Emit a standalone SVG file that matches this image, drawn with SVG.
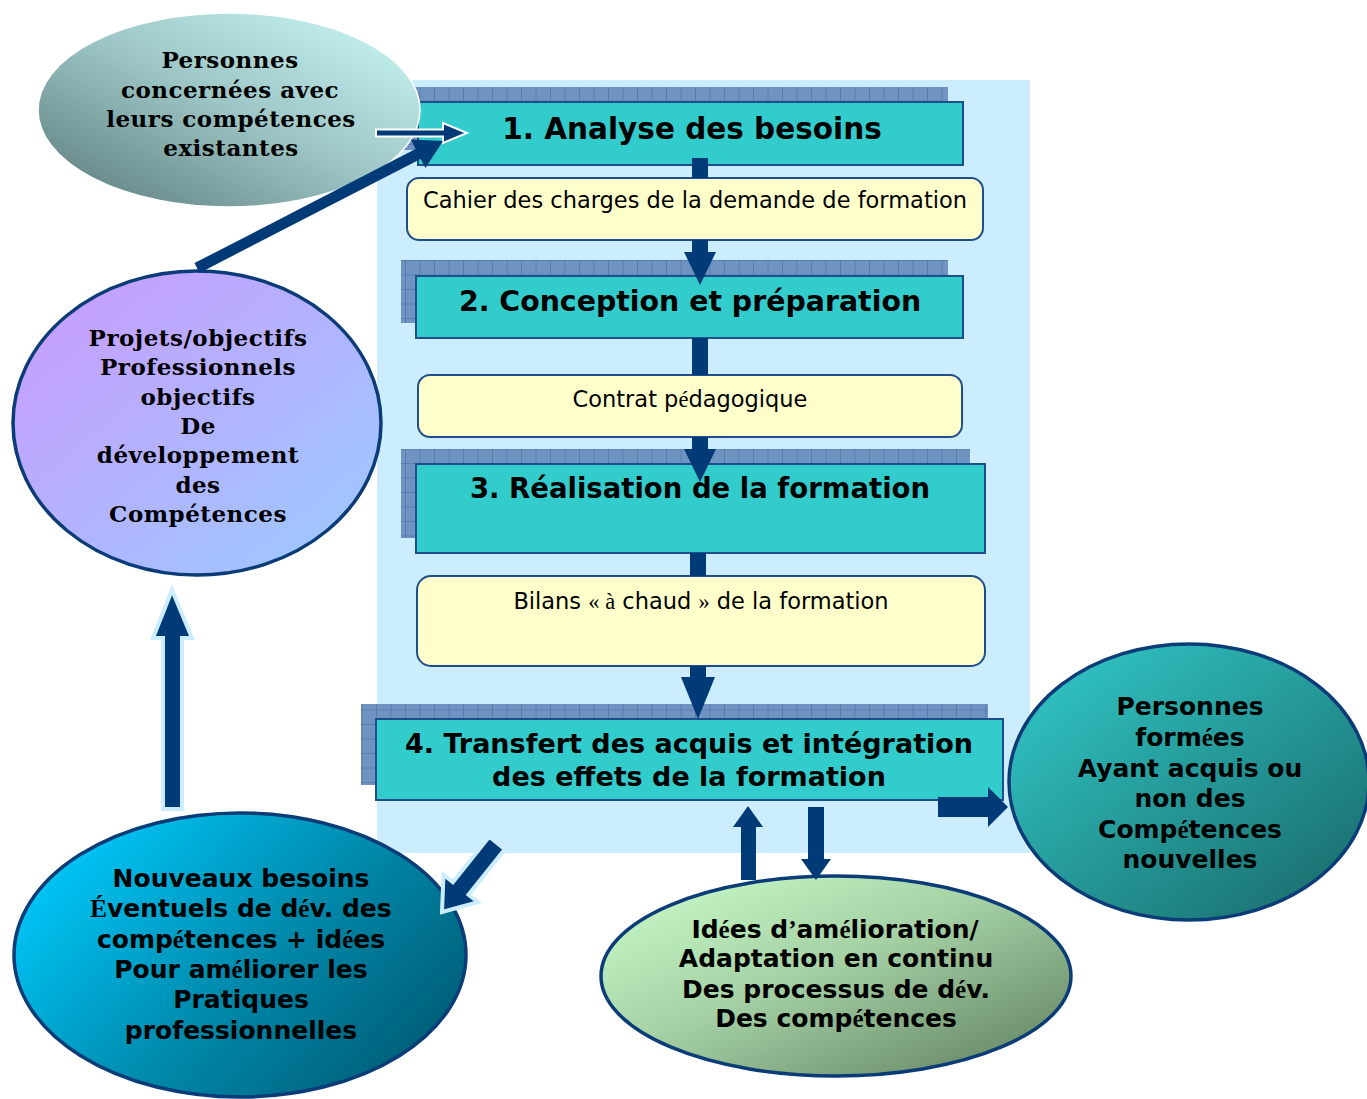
<svg xmlns="http://www.w3.org/2000/svg" width="1367" height="1099" viewBox="0 0 1367 1099">
  <style>
    .step { fill: #33CCCC; stroke: #1F4E8C; stroke-width: 2; }
    .shadow { fill: url(#grid); }
    .doc { fill: #FFFFCC; stroke: #1F4E8C; stroke-width: 2; }
    .title { font-family: "DejaVu Sans", Verdana, sans-serif; font-weight: bold; font-size: 27.5px; fill: #000; text-anchor: middle; }
    .label { font-family: "DejaVu Sans", Verdana, sans-serif; font-size: 22.5px; fill: #000; text-anchor: middle; }
    .serif { font-family: "DejaVu Serif", "Liberation Serif", serif; font-weight: bold; font-size: 23px; letter-spacing: 0.5px; fill: #000; text-anchor: middle; }
    .sans { font-family: "DejaVu Sans", Verdana, sans-serif; font-weight: bold; font-size: 25px; fill: #000; text-anchor: middle; }
    .tm { font-family: "Liberation Serif", "Times New Roman", serif; }
    .tmb { font-family: "Liberation Serif", "Times New Roman", serif; font-weight: bold; }
    .bubble { stroke: #0B3C78; stroke-width: 3.5; }
    .navy { fill: #003B77; }
    .halo { fill: #003B77; stroke: #CCECFF; stroke-width: 4; stroke-linejoin: miter; }
  </style>
  <defs>
    <pattern id="grid" width="14.5" height="14.5" patternUnits="userSpaceOnUse">
      <rect width="14.5" height="14.5" fill="#6F94C2"/>
      <path d="M14.5 0V14.5M0 14.5H14.5" stroke="#40679F" stroke-width="1"/>
    </pattern>
    <linearGradient id="gExist" x1="1" y1="0" x2="0" y2="1">
      <stop offset="0" stop-color="#CCFBFA"/>
      <stop offset="0.5" stop-color="#9CC4C4"/>
      <stop offset="1" stop-color="#587777"/>
    </linearGradient>
    <linearGradient id="gGoals" x1="0" y1="0" x2="1" y2="1">
      <stop offset="0" stop-color="#CC99FF"/>
      <stop offset="1" stop-color="#99CCFF"/>
    </linearGradient>
    <linearGradient id="gNeeds" x1="0" y1="0.2" x2="1" y2="0.8">
      <stop offset="0" stop-color="#00CCFF"/>
      <stop offset="0.55" stop-color="#0088AA"/>
      <stop offset="1" stop-color="#005A72"/>
    </linearGradient>
    <linearGradient id="gIdeas" x1="0" y1="0" x2="1" y2="1">
      <stop offset="0" stop-color="#CCFFCC"/>
      <stop offset="0.45" stop-color="#A6D2A6"/>
      <stop offset="1" stop-color="#5C7C5C"/>
    </linearGradient>
    <linearGradient id="gTrained" x1="0" y1="0" x2="1" y2="1">
      <stop offset="0" stop-color="#33CCCC"/>
      <stop offset="1" stop-color="#186666"/>
    </linearGradient>
  </defs>

  <!-- process panel -->
  <rect id="panel" x="377" y="80" width="653" height="773" fill="#CCECFF"/>

  <!-- step 1 -->
  <g id="step1">
    <rect class="shadow" x="403" y="87" width="545" height="63"/>
    <rect class="step" x="418" y="102" width="545" height="63"/>
    <text class="title" x="692" y="139" style="font-size:29.5px">1. Analyse des besoins</text>
  </g>

  <g id="doc1">
    <rect class="doc" x="407" y="178" width="576" height="62" rx="12"/>
    <text class="label" x="695" y="208">Cahier des charges de la demande de formation</text>
  </g>

  <!-- step 2 -->
  <g id="step2">
    <rect class="shadow" x="401" y="260" width="547" height="63"/>
    <rect class="step" x="416" y="276" width="547" height="62"/>
    <text class="title" x="690" y="311" style="font-size:28.4px">2. Conception et préparation</text>
  </g>

  <g id="doc2">
    <rect class="doc" x="418" y="375" width="544" height="62" rx="12"/>
    <text class="label" x="690" y="407">Contrat p<tspan class="tm">é</tspan>dagogique</text>
  </g>

  <!-- step 3 -->
  <g id="step3">
    <rect class="shadow" x="401" y="449" width="569" height="89"/>
    <rect class="step" x="416" y="464" width="569" height="89"/>
    <text class="title" x="700" y="498">3. Réalisation de la formation</text>
  </g>

  <g id="doc3">
    <rect class="doc" x="417" y="576" width="568" height="90" rx="14"/>
    <text class="label" x="701" y="609">Bilans <tspan class="tm">« à</tspan> chaud <tspan class="tm">»</tspan> de la formation</text>
  </g>

  <!-- step 4 -->
  <g id="step4">
    <rect class="shadow" x="361" y="704" width="627" height="81"/>
    <rect class="step" x="376" y="719" width="627" height="81"/>
    <text class="title" x="689" y="753" style="font-size:27px">4. Transfert des acquis et intégration</text>
    <text class="title" x="689" y="786" style="font-size:27px">des effets de la formation</text>
  </g>

  <!-- surrounding bubbles -->
  <g id="existing">
    <ellipse cx="229" cy="110" rx="191" ry="97" fill="url(#gExist)" stroke="#FFFFFF" stroke-width="1.5"/>
    <text class="serif" x="230" y="68">Personnes</text>
    <text class="serif" x="230" y="98">concernées avec</text>
    <text class="serif" x="231" y="127">leurs compétences</text>
    <text class="serif" x="231" y="156">existantes</text>
  </g>

  <g id="goals">
    <ellipse class="bubble" cx="197" cy="423" rx="184" ry="152" fill="url(#gGoals)"/>
    <text class="serif" x="198" y="346">Projets/objectifs</text>
    <text class="serif" x="198" y="375">Professionnels</text>
    <text class="serif" x="198" y="405">objectifs</text>
    <text class="serif" x="198" y="434">De</text>
    <text class="serif" x="198" y="463">développement</text>
    <text class="serif" x="198" y="493">des</text>
    <text class="serif" x="198" y="522">Compétences</text>
  </g>

  <g id="needs">
    <ellipse class="bubble" cx="240" cy="955" rx="226" ry="142" fill="url(#gNeeds)"/>
    <text class="sans" x="241" y="887">Nouveaux besoins</text>
    <text class="sans" x="241" y="917"><tspan class="tmb">É</tspan>ventuels de d<tspan class="tmb">é</tspan>v. des</text>
    <text class="sans" x="241" y="948">comp<tspan class="tmb">é</tspan>tences + id<tspan class="tmb">é</tspan>es</text>
    <text class="sans" x="241" y="978">Pour am<tspan class="tmb">é</tspan>liorer les</text>
    <text class="sans" x="241" y="1008">Pratiques</text>
    <text class="sans" x="241" y="1039">professionnelles</text>
  </g>

  <g id="ideas">
    <ellipse class="bubble" cx="836" cy="976" rx="235" ry="100" fill="url(#gIdeas)"/>
    <text class="sans" x="835" y="938">Id<tspan class="tmb">é</tspan>es d<tspan class="tmb">’</tspan>am<tspan class="tmb">é</tspan>lioration/</text>
    <text class="sans" x="836" y="967">Adaptation en continu</text>
    <text class="sans" x="836" y="998">Des processus de d<tspan class="tmb">é</tspan>v.</text>
    <text class="sans" x="836" y="1027">Des comp<tspan class="tmb">é</tspan>tences</text>
  </g>

  <g id="trained">
    <ellipse class="bubble" cx="1189" cy="782" rx="180" ry="138" fill="url(#gTrained)"/>
    <text class="sans" x="1190" y="715">Personnes</text>
    <text class="sans" x="1190" y="746">form<tspan class="tmb">é</tspan>es</text>
    <text class="sans" x="1190" y="777">Ayant acquis ou</text>
    <text class="sans" x="1190" y="807">non des</text>
    <text class="sans" x="1190" y="838">Comp<tspan class="tmb">é</tspan>tences</text>
    <text class="sans" x="1190" y="868">nouvelles</text>
  </g>

  <!-- connectors -->
  <g id="connectors">
    <!-- main chain -->
    <rect class="navy" x="692" y="158" width="16" height="20"/>
    <rect class="navy" x="692" y="240" width="16" height="14"/>
    <polygon class="navy" points="684,252 716,252 700,285"/>
    <rect class="navy" x="692" y="338" width="16" height="37"/>
    <rect class="navy" x="692" y="437" width="16" height="14"/>
    <polygon class="navy" points="684,449 716,449 700,482"/>
    <rect class="navy" x="690" y="553" width="16" height="23"/>
    <rect class="navy" x="690" y="666" width="16" height="13"/>
    <polygon class="navy" points="681,677 715,677 698,719"/>

    <!-- entry into step 1 -->
    <polygon class="navy" stroke="#FFFFFF" stroke-width="2" points="376,129.5 443,129.5 443,123 467,133 443,143 443,136.5 376,136.5"/>
    <line x1="197" y1="268" x2="420" y2="153" stroke="#003B77" stroke-width="11"/>
    <polygon class="navy" points="443,141 425.4,168 410.8,139.6"/>

    <!-- outputs of step 4 -->
    <polygon class="navy" points="938,797 988,797 988,787 1008,807 988,827 988,817 938,817"/>
    <polygon class="navy" points="748,806 763,827 756,827 756,880 741,880 741,827 733,827"/>
    <polygon class="navy" points="808,807 824,807 824,859 831,859 816,880 801,859 808,859"/>
    <polygon class="halo" points="489.2,836.8 504.8,849.2 468.5,894.7 477.9,902.2 442,912 443.5,874.8 452.9,882.3"/>

    <!-- feedback loop upward -->
    <polygon class="halo" points="172,590 192,638 182,638 182,809 163,809 163,638 153,638"/>
  </g>
</svg>
